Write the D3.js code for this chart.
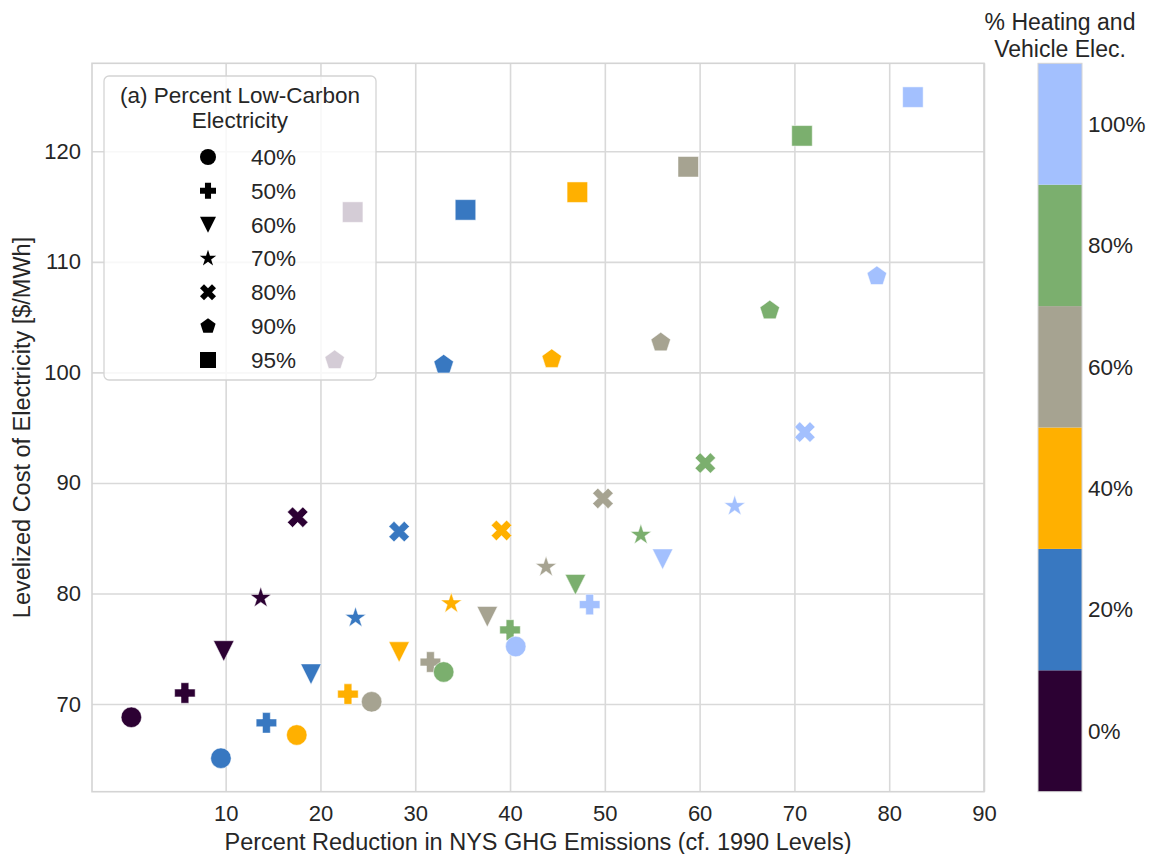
<!DOCTYPE html>
<html>
<head>
<meta charset="utf-8">
<script src="https://cdn.jsdelivr.net/npm/d3@7"></script>
<style>
  body { margin: 0; background: #fff; }
  svg { font-family: "Liberation Sans", Arial, sans-serif; }
  .grid line { stroke: #d9d9d9; stroke-width: 1.6; }
  .grid text { fill: #262626; font-size: 22px; }
</style>
</head>
<body>
<div id="chart"></div>
<script>
// percent low-carbon electricity (marker shape) and percent heating/vehicle electrification (colour)
var lowCarbon = ["40%", "50%", "60%", "70%", "80%", "90%", "95%"];
var heating = ["0%", "20%", "40%", "60%", "80%", "100%"];
var heatColors = ["#2c0133", "#3878c1", "#ffb000", "#a6a391", "#7baf6e", "#a3c0fe"];

// GHG reduction (%), one array per heating level, ordered like lowCarbon
var red0 = [0.05, 5.7, 9.8, 13.7, 17.6, 21.5, 23.4];
var red20 = [9.5, 14.3, 19.0, 23.7, 28.3, 33.0, 35.3];
var red40 = [17.5, 22.9, 28.3, 33.8, 39.1, 44.4, 47.1];
var red60 = [25.4, 31.6, 37.6, 43.8, 49.8, 55.9, 58.8];
var red80 = [33.0, 40.0, 46.9, 53.8, 60.6, 67.4, 70.8];
var red100 = [40.6, 48.4, 56.1, 63.7, 71.1, 78.7, 82.5];

// levelized cost ($/MWh)
var cost0 = [68.8, 71.0, 74.8, 79.6, 86.9, 101.1, 114.5];
var cost20 = [65.1, 68.3, 72.7, 77.8, 85.6, 100.7, 114.7];
var cost40 = [67.2, 70.9, 74.7, 79.1, 85.7, 101.2, 116.3];
var cost60 = [70.2, 73.8, 77.9, 82.4, 88.6, 102.7, 118.6];
var cost80 = [72.9, 76.7, 80.8, 85.3, 91.8, 105.6, 121.4];
var cost100 = [75.2, 79.0, 83.1, 87.9, 94.6, 108.7, 124.9];

var xTicks = [10, 20, 30, 40, 50, 60, 70, 80, 90];
var yTicks = [70, 80, 90, 100, 110, 120];

var reductions = [red0, red20, red40, red60, red80, red100];
var costs = [cost0, cost20, cost40, cost60, cost80, cost100];

var points = [];
heating.forEach(function(h, i) {
  lowCarbon.forEach(function(lc, j) {
    points.push({ heat: h, lc: lc, x: reductions[i][j], y: costs[i][j] });
  });
});

var W = 1154, H = 854;
var plot = { left: 92, right: 984, top: 63.3, bottom: 791.7 };

var x = d3.scaleLinear().domain([-4.1, 90]).range([plot.left, plot.right]);
var y = d3.scaleLinear().domain([62.07, 127.96]).range([plot.bottom, plot.top]);
var color = d3.scaleOrdinal().domain(heating).range(heatColors);

// marker shapes, size = full width in px (like matplotlib markers)
function poly(ctx, pts) {
  ctx.moveTo(pts[0][0], pts[0][1]);
  for (var i = 1; i < pts.length; i++) ctx.lineTo(pts[i][0], pts[i][1]);
  ctx.closePath();
}
var shapes = {
  "40%": { draw: function(ctx, s) { ctx.moveTo(s / 2, 0); ctx.arc(0, 0, s / 2, 0, 2 * Math.PI); } },
  "50%": { draw: function(ctx, s) {
    var a = s * 0.19, b = s / 2;
    poly(ctx, [[-a, -b], [a, -b], [a, -a], [b, -a], [b, a], [a, a], [a, b], [-a, b], [-a, a], [-b, a], [-b, -a], [-a, -a]]);
  } },
  "60%": { draw: function(ctx, s) { poly(ctx, [[0, s / 2], [-s / 2, -s / 2], [s / 2, -s / 2]]); } },
  "70%": { draw: function(ctx, s) {
    // stars read a bit larger than the other markers
    var R = s / 2 * 1.08;
    var pts = [];
    for (var i = 0; i < 10; i++) {
      var r = i % 2 ? R * 0.381966 : R;
      var t = -Math.PI / 2 + i * Math.PI / 5;
      pts.push([r * Math.cos(t), r * Math.sin(t)]);
    }
    poly(ctx, pts);
  } },
  "80%": { draw: function(ctx, s) {
    var k = s / 4;
    var base = [[-1, -2], [0, -1], [1, -2], [2, -1], [1, 0], [2, 1], [1, 2], [0, 1], [-1, 2], [-2, 1], [-1, 0], [-2, -1]];
    poly(ctx, base.map(function(p) { return [p[0] * k, p[1] * k]; }));
  } },
  "90%": { draw: function(ctx, s) {
    var pts = [];
    for (var i = 0; i < 5; i++) {
      var t = -Math.PI / 2 + i * 2 * Math.PI / 5;
      pts.push([s / 2 * Math.cos(t), s / 2 * Math.sin(t)]);
    }
    poly(ctx, pts);
  } },
  "95%": { draw: function(ctx, s) { ctx.rect(-s / 2, -s / 2, s, s); } }
};

var svg = d3.select("#chart").append("svg")
  .attr("width", W)
  .attr("height", H);

// grid + tick labels
svg.append("g")
  .attr("class", "grid")
  .attr("transform", "translate(0," + plot.bottom + ")")
  .call(d3.axisBottom(x).tickValues(xTicks).tickFormat(d3.format("d"))
    .tickSizeInner(-(plot.bottom - plot.top)).tickSizeOuter(0).tickPadding(14))
  .call(function(g) { g.select(".domain").remove(); });

svg.append("g")
  .attr("class", "grid")
  .attr("transform", "translate(" + plot.left + ",0)")
  .call(d3.axisLeft(y).tickValues(yTicks).tickFormat(d3.format("d"))
    .tickSizeInner(-(plot.right - plot.left)).tickSizeOuter(0).tickPadding(11))
  .call(function(g) { g.select(".domain").remove(); });

svg.selectAll(".grid text").attr("font-family", null);

// frame
svg.append("rect")
  .attr("x", plot.left).attr("y", plot.top)
  .attr("width", plot.right - plot.left).attr("height", plot.bottom - plot.top)
  .attr("fill", "none").attr("stroke", "#d4d4d4").attr("stroke-width", 1.6);

// points
svg.append("g").selectAll("path")
  .data(points)
  .enter().append("path")
  .attr("transform", function(d) { return "translate(" + x(d.x) + "," + y(d.y) + ")"; })
  .attr("d", function(d) { return d3.symbol().type(shapes[d.lc]).size(20.5)(); })
  .attr("fill", function(d) { return color(d.heat); })
  .attr("stroke", "#fff")
  .attr("stroke-width", 0.5);

// axis titles
svg.append("text")
  .attr("x", (plot.left + plot.right) / 2)
  .attr("y", 850)
  .attr("text-anchor", "middle")
  .attr("fill", "#262626")
  .style("font-size", "23.5px")
  .text("Percent Reduction in NYS GHG Emissions (cf. 1990 Levels)");

svg.append("text")
  .attr("transform", "translate(30," + (plot.top + plot.bottom) / 2 + ") rotate(-90)")
  .attr("text-anchor", "middle")
  .attr("fill", "#262626")
  .style("font-size", "23.5px")
  .text("Levelized Cost of Electricity [$/MWh]");

// legend for marker shapes
var leg = svg.append("g");
leg.append("rect")
  .attr("x", 104).attr("y", 76).attr("width", 272).attr("height", 304)
  .attr("rx", 5)
  .attr("fill", "#fff").attr("fill-opacity", 0.8)
  .attr("stroke", "#d4d4d4").attr("stroke-width", 1.3);

leg.append("text")
  .attr("x", 240).attr("y", 95).attr("dy", "0.35em")
  .attr("text-anchor", "middle").attr("fill", "#262626")
  .style("font-size", "22.5px")
  .text("(a) Percent Low-Carbon");
leg.append("text")
  .attr("x", 240).attr("y", 120.5).attr("dy", "0.35em")
  .attr("text-anchor", "middle").attr("fill", "#262626")
  .style("font-size", "22.5px")
  .text("Electricity");

var rowY = d3.scalePoint().domain(lowCarbon).range([157, 360]);
var rows = leg.selectAll(".row")
  .data(lowCarbon)
  .enter().append("g")
  .attr("transform", function(d) { return "translate(0," + rowY(d) + ")"; });
rows.append("path")
  .attr("transform", "translate(208,0)")
  .attr("d", function(d) { return d3.symbol().type(shapes[d]).size(16)(); })
  .attr("fill", "#000");
rows.append("text")
  .attr("x", 251).attr("dy", "0.35em")
  .attr("fill", "#262626")
  .style("font-size", "22.5px")
  .text(function(d) { return d; });

// colour bar
var cb = { left: 1038, width: 44 };
var band = d3.scaleBand().domain(heating).range([plot.bottom, plot.top]);
var bar = svg.append("g");
bar.selectAll("rect")
  .data(heating)
  .enter().append("rect")
  .attr("x", cb.left)
  .attr("y", function(d) { return band(d); })
  .attr("width", cb.width)
  .attr("height", band.bandwidth())
  .attr("fill", function(d) { return color(d); });
bar.append("rect")
  .attr("x", cb.left).attr("y", plot.top)
  .attr("width", cb.width).attr("height", plot.bottom - plot.top)
  .attr("fill", "none").attr("stroke", "#d4d4d4").attr("stroke-width", 1);
bar.selectAll(".cbl")
  .data(heating)
  .enter().append("text")
  .attr("x", cb.left + cb.width + 6)
  .attr("y", function(d) { return band(d) + band.bandwidth() / 2; })
  .attr("dy", "0.35em")
  .attr("fill", "#262626")
  .style("font-size", "22.5px")
  .text(function(d) { return d; });

bar.append("text")
  .attr("x", cb.left + cb.width / 2).attr("y", 22).attr("dy", "0.35em")
  .attr("text-anchor", "middle").attr("fill", "#262626")
  .style("font-size", "23px")
  .text("% Heating and");
bar.append("text")
  .attr("x", cb.left + cb.width / 2).attr("y", 48.5).attr("dy", "0.35em")
  .attr("text-anchor", "middle").attr("fill", "#262626")
  .style("font-size", "23px")
  .text("Vehicle Elec.");
</script>
</body>
</html>
